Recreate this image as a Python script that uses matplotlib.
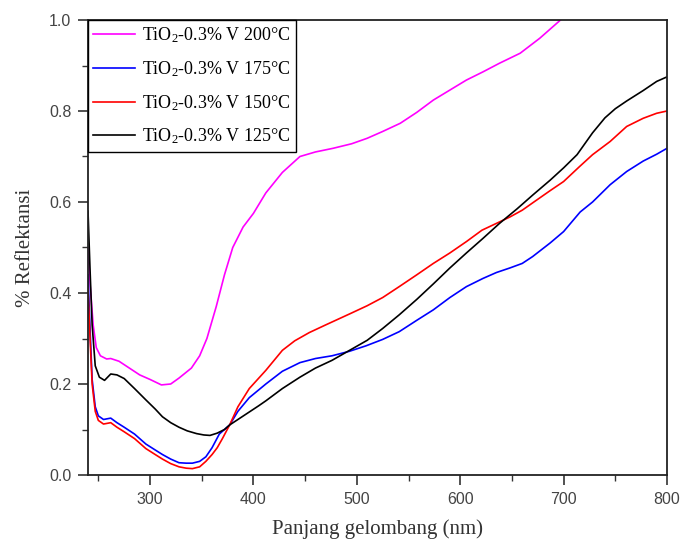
import numpy as np
import matplotlib
matplotlib.use("Agg")
import matplotlib.pyplot as plt
from matplotlib.ticker import MultipleLocator

plt.rcParams['mathtext.fontset'] = 'custom'
plt.rcParams['mathtext.rm'] = 'Liberation Serif'
plt.rcParams['mathtext.it'] = 'Liberation Serif:italic'

# data (wavelength nm, reflectance)
x_200 = [240, 242, 245, 248, 252, 258, 262, 270, 280, 290, 300, 311, 320, 328, 340, 348,
         355, 364, 372, 380, 390, 400, 412, 428, 445, 460, 477, 495, 510, 525, 542, 558,
         574, 590, 606, 622, 638, 658, 677, 697]
y_200 = [0.50, 0.42, 0.33, 0.28, 0.262, 0.255, 0.256, 0.25, 0.235, 0.22, 0.21, 0.198, 0.20,
         0.213, 0.235, 0.262, 0.30, 0.37, 0.44, 0.50, 0.545, 0.575, 0.62, 0.665, 0.70, 0.71,
         0.718, 0.728, 0.74, 0.755, 0.773, 0.797, 0.824, 0.846, 0.868, 0.886, 0.905, 0.927,
         0.96, 1.0]

x_175 = [240, 242, 244, 247, 250, 255, 262, 268, 275, 285, 296, 305, 312, 320, 328, 335,
         341, 348, 354, 360, 367, 377, 385, 396, 412, 428, 445, 460, 476, 493, 509, 525,
         541, 558, 574, 590, 606, 622, 635, 648, 660, 670, 687, 700, 716, 728, 745, 761,
         777, 790, 800]
y_175 = [0.44, 0.32, 0.21, 0.15, 0.13, 0.122, 0.125, 0.115, 0.105, 0.09, 0.068, 0.055,
         0.045, 0.035, 0.027, 0.026, 0.026, 0.03, 0.04, 0.06, 0.09, 0.11, 0.14, 0.17, 0.20,
         0.228, 0.247, 0.256, 0.262, 0.272, 0.284, 0.298, 0.315, 0.34, 0.363, 0.39, 0.414,
         0.432, 0.445, 0.455, 0.465, 0.48, 0.51, 0.535, 0.578, 0.60, 0.638, 0.667, 0.69,
         0.705, 0.718]

x_150 = [240, 242, 244, 247, 250, 255, 262, 268, 275, 285, 296, 305, 312, 320, 328, 335,
         341, 348, 354, 360, 365, 370, 377, 385, 396, 412, 428, 440, 454, 470, 493, 510,
         525, 541, 558, 574, 590, 606, 621, 635, 648, 660, 670, 687, 700, 715, 728, 745,
         761, 777, 790, 800]
y_150 = [0.41, 0.30, 0.20, 0.14, 0.12, 0.112, 0.115, 0.105, 0.095, 0.08, 0.058, 0.045,
         0.035, 0.025, 0.018, 0.015, 0.014, 0.018, 0.03, 0.045, 0.06, 0.08, 0.11, 0.15,
         0.19, 0.23, 0.274, 0.295, 0.313, 0.33, 0.354, 0.372, 0.39, 0.414, 0.44, 0.465,
         0.488, 0.513, 0.538, 0.553, 0.567, 0.582, 0.598, 0.625, 0.645, 0.677, 0.704, 0.733,
         0.766, 0.784, 0.795, 0.80]

x_125 = [240, 242, 244, 247, 251, 256, 262, 268, 275, 285, 296, 305, 312, 320, 328, 336,
         345, 352, 358, 365, 372, 377, 385, 395, 405, 412, 428, 445, 460, 476, 493, 510,
         525, 541, 558, 574, 590, 606, 622, 638, 655, 670, 687, 700, 713, 728, 740, 750,
         761, 777, 790, 800]
y_125 = [0.58, 0.45, 0.33, 0.24, 0.215, 0.208, 0.222, 0.22, 0.212, 0.19, 0.165, 0.145,
         0.128, 0.115, 0.105, 0.097, 0.091, 0.088, 0.087, 0.092, 0.10, 0.11, 0.122, 0.137,
         0.152, 0.163, 0.19, 0.215, 0.235, 0.252, 0.274, 0.296, 0.322, 0.352, 0.386, 0.42,
         0.455, 0.488, 0.52, 0.553, 0.585, 0.615, 0.648, 0.675, 0.704, 0.752, 0.785, 0.805,
         0.822, 0.845, 0.865, 0.875]

series = [
    (x_200, y_200, '#ff00ff', 'TiO$_2$-0.3% V 200°C'),
    (x_175, y_175, '#0000ff', 'TiO$_2$-0.3% V 175°C'),
    (x_150, y_150, '#ff0000', 'TiO$_2$-0.3% V 150°C'),
    (x_125, y_125, '#000000', 'TiO$_2$-0.3% V 125°C'),
]

fig = plt.figure(figsize=(6.83, 5.47), dpi=100)
ax = fig.add_axes([88/683, 1-475/547, (667-88)/683, (475-20)/547])

for xs, ys, c, lab in series:
    ax.plot(xs, ys, color=c, lw=1.2, label=lab)

ax.set_xlim(240, 800)
ax.set_ylim(0, 1.0)
ax.xaxis.set_major_locator(MultipleLocator(100))
ax.xaxis.set_minor_locator(MultipleLocator(50))
ax.yaxis.set_major_locator(MultipleLocator(0.2))
ax.yaxis.set_minor_locator(MultipleLocator(0.1))
ax.yaxis.set_major_formatter(plt.FormatStrFormatter('%.1f'))

ax.tick_params(which='major', direction='out', length=7, width=1.2, colors='#333333',
               labelsize=11.5, pad=5)
ax.tick_params(which='minor', direction='out', length=4, width=1.0, colors='#333333')
for lbl in ax.get_xticklabels() + ax.get_yticklabels():
    lbl.set_fontfamily('Liberation Sans')
    lbl.set_color('#444444')
for sp in ax.spines.values():
    sp.set_linewidth(1.3)
    sp.set_color('#222222')

ax.set_xlabel('Panjang gelombang (nm)', fontfamily='Liberation Serif', fontsize=15,
              color='#333333', labelpad=9)
ax.set_ylabel('% Reflektansi', fontfamily='Liberation Serif', fontsize=15,
              color='#333333', labelpad=10)

leg = ax.legend(loc='upper left', borderaxespad=0, fancybox=False, framealpha=1,
                edgecolor='black', handlelength=2.3,
                prop={'family': 'Liberation Serif', 'size': 13}, labelspacing=0.78,
                borderpad=0.3, handletextpad=0.4)
leg.get_frame().set_linewidth(1.0)

fig.savefig('out.png', dpi=100)
